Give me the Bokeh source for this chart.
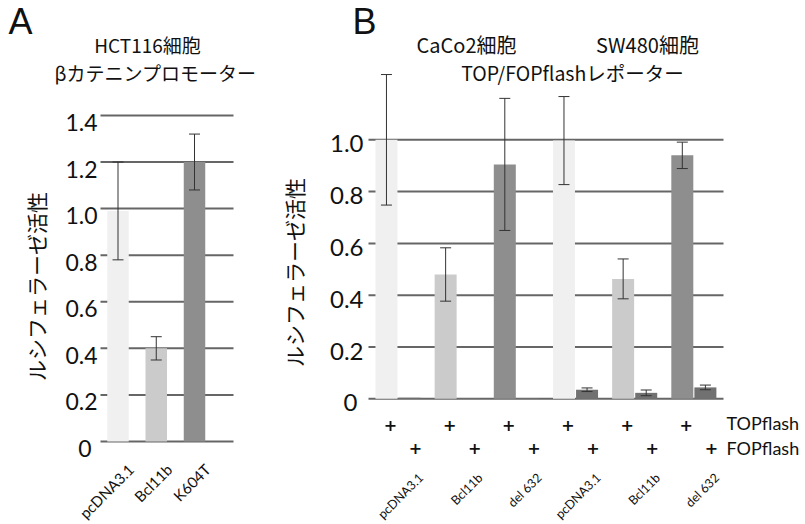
import math
from bokeh.plotting import figure
from bokeh.models import ColumnDataSource, Whisker, TeeHead, Range1d
from bokeh.layouts import row
from bokeh.embed import file_html
from bokeh.resources import INLINE
from bokeh.core.properties import value

# ---------------- data ----------------
# Panel A: HCT116 cells, beta-catenin promoter
cats_a = ["pcDNA3.1", "Bcl11b", "K604T"]
vals_a = [0.99, 0.40, 1.20]
err_a = [0.21, 0.05, 0.12]
y_ticks_a = [0, 0.2, 0.4, 0.6, 0.8, 1.0, 1.2, 1.4]
y_labels_a = ["0", "0.2", "0.4", "0.6", "0.8", "1.0", "1.2", "1.4"]

# Panel B: CaCo2 / SW480 cells, TOP/FOPflash reporter
cats_b = ["pcDNA3.1", "Bcl11b", "del 632", "pcDNA3.1", "Bcl11b", "del 632"]
top_b = [1.00, 0.48, 0.905, 0.997, 0.463, 0.94]
top_err_b = [0.252, 0.103, 0.255, 0.17, 0.077, 0.051]
fop_b = [0.004, 0.003, 0.003, 0.035, 0.023, 0.044]
fop_err_b = [0.0, 0.0, 0.0, 0.007, 0.011, 0.009]
y_ticks_b = [0, 0.2, 0.4, 0.6, 0.8, 1.0]
y_labels_b = ["0", "0.2", "0.4", "0.6", "0.8", "1.0"]

# ---------------- styles / geometry (pixels) ----------------
pal_a = ["#f0f0f0", "#cbcbcb", "#8e8e8e"]
pal_b = ["#f0f0f0", "#cbcbcb", "#8e8e8e", "#f0f0f0", "#cbcbcb", "#8e8e8e"]
fop_color = "#717171"
grid_color = "#666666"
err_color = "#333333"
TXT = "#111111"
NUM = "Lato"
JP = "Noto Sans CJK JP"
H = 523

# panel A canvas [0, 262]
WA, A_LEFT = 262, 0
A_X0, A_SX = 117.5, 38.25       # page x of first bar, px per category
A_Y0, A_SY = 441.0, 232.9       # page y of value 0, px per unit
A_GRID = (100, 233)
# panel B canvas [262, 803]
WB, B_LEFT = 541, 262
B_X0, B_SX = 397.5, 59.17       # page x of first pair centre, px per pair
B_Y0, B_SY = 398.3, 259.0
B_GRID = (368, 723)
PAIR_OFF = 0.195


def make_fig(width, left, x0, sx, y0, sy):
    xr = Range1d((left - x0) / sx, (left + width - x0) / sx)
    yr = Range1d(-(H - y0) / sy, y0 / sy)
    p = figure(width=width, height=H, x_range=xr, y_range=yr, output_backend="svg",
               toolbar_location=None, x_axis_location=None, y_axis_location=None,
               min_border=0)
    for g in p.grid:
        g.visible = False
    p.outline_line_color = None
    p.background_fill_color = "white"
    p.border_fill_color = "white"
    return p


def conv(x0, sx, y0, sy):
    return (lambda px: (px - x0) / sx), (lambda py: (y0 - py) / sy)


def txt(p, x, y, text, size, font=JP, align="center", angle=0.0, baseline="middle",
        style="normal"):
    p.text(x=x, y=y, text=text, text_font=value(font), text_font_size=size,
           text_align=align, text_baseline=baseline, angle=angle, text_color=TXT,
           text_font_style=style)


def add_grid(p, ticks, gx0, gx1):
    n = len(ticks)
    p.segment(x0=[gx0] * n, x1=[gx1] * n, y0=ticks, y1=ticks, line_color=grid_color,
              line_width=2, level="underlay")


def add_whiskers(p, src):
    p.add_layout(Whisker(base="x", upper="upper", lower="lower", source=src,
                         line_color=err_color, line_width=1, level="annotation",
                         upper_head=TeeHead(size=11, line_color=err_color, line_width=1),
                         lower_head=TeeHead(size=11, line_color=err_color, line_width=1)))


def tick_x(conv_x, right, labels):
    # the lone "0" label sits a little further left than the decimal labels
    return [conv_x(right - (6 if l == "0" else 0)) for l in labels]


# ---------------- Panel A ----------------
pa = make_fig(WA, A_LEFT, A_X0, A_SX, A_Y0, A_SY)
ax, ay = conv(A_X0, A_SX, A_Y0, A_SY)
add_grid(pa, y_ticks_a, ax(A_GRID[0]), ax(A_GRID[1]))

xa = list(range(len(cats_a)))
src_a = ColumnDataSource(dict(x=xa, top=vals_a, color=pal_a,
                              upper=[v + e for v, e in zip(vals_a, err_a)],
                              lower=[v - e for v, e in zip(vals_a, err_a)]))
pa.vbar(x="x", top="top", width=21.5 / A_SX, fill_color="color", line_color=None,
        source=src_a)
add_whiskers(pa, src_a)

# y tick labels
txt(pa, tick_x(ax, 97, y_labels_a), [t - 7 / A_SY for t in y_ticks_a], y_labels_a,
    "23px", font=NUM, align="right")
# rotated category names
txt(pa, [x + 13 / A_SX for x in xa], [ay(466)] * len(xa), cats_a, "15px", font=NUM,
    align="right", angle=math.pi / 4)

txt(pa, [ax(8)], [ay(21)], ["A"], "36px", font="Liberation Sans", align="left")
txt(pa, [ax(147)], [ay(44)], ["HCT116細胞"], "19px")
txt(pa, [ax(155)], [ay(72)], ["βカテニンプロモーター"], "19px")
txt(pa, [ax(35)], [ay(286)], ["ルシフェラーゼ活性"], "21px", angle=math.pi / 2)

# ---------------- Panel B ----------------
pb = make_fig(WB, B_LEFT, B_X0, B_SX, B_Y0, B_SY)
bx, by = conv(B_X0, B_SX, B_Y0, B_SY)
add_grid(pb, y_ticks_b, bx(B_GRID[0]), bx(B_GRID[1]))

gb = list(range(len(cats_b)))
xt = [g - PAIR_OFF for g in gb]
xf = [g + PAIR_OFF for g in gb]
src_t = ColumnDataSource(dict(x=xt, top=top_b, color=pal_b,
                              upper=[v + e for v, e in zip(top_b, top_err_b)],
                              lower=[v - e for v, e in zip(top_b, top_err_b)]))
pb.vbar(x="x", top="top", width=22 / B_SX, fill_color="color", line_color=None,
        source=src_t)
keep = [i for i, e in enumerate(fop_err_b) if e > 0]
src_f = ColumnDataSource(dict(x=xf, top=fop_b))
src_fe = ColumnDataSource(dict(x=[xf[i] for i in keep],
                               upper=[fop_b[i] + fop_err_b[i] for i in keep],
                               lower=[fop_b[i] - fop_err_b[i] for i in keep]))
pb.vbar(x="x", top="top", width=22 / B_SX, fill_color=fop_color, line_color=None,
        source=src_f)
add_whiskers(pb, src_t)
add_whiskers(pb, src_fe)

# y tick labels
txt(pb, tick_x(bx, 363, y_labels_b), [t - 4 / B_SY for t in y_ticks_b], y_labels_b,
    "24px", font=NUM, align="right")

# "+" rows (TOPflash / FOPflash) and their names
txt(pb, [x + 4 / B_SX for x in xt], [by(424)] * len(xt), ["+"] * len(xt), "16px",
    font="DejaVu Sans", style="bold")
txt(pb, [x + 6 / B_SX for x in xf], [by(447)] * len(xf), ["+"] * len(xf), "16px",
    font="DejaVu Sans", style="bold")
txt(pb, [bx(726)], [by(422)], ["TOPflash"], "18px", font=NUM, align="left")
txt(pb, [bx(726)], [by(447)], ["FOPflash"], "18px", font=NUM, align="left")

# rotated construct names under each pair
txt(pb, [g + 23 / B_SX for g in gb], [by(475)] * len(gb), cats_b, "12.5px", font=NUM,
    align="right", angle=math.pi / 4)

txt(pb, [bx(352)], [by(21)], ["B"], "36px", font="Liberation Sans", align="left")
txt(pb, [bx(466)], [by(44)], ["CaCo2細胞"], "20px")
txt(pb, [bx(647)], [by(44)], ["SW480細胞"], "20px")
txt(pb, [bx(572)], [by(72)], ["TOP/FOPflashレポーター"], "19.5px")
txt(pb, [bx(293)], [by(272)], ["ルシフェラーゼ活性"], "21px", angle=math.pi / 2)

layout = row(pa, pb)
open("out.html", "w").write(file_html(layout, INLINE))
